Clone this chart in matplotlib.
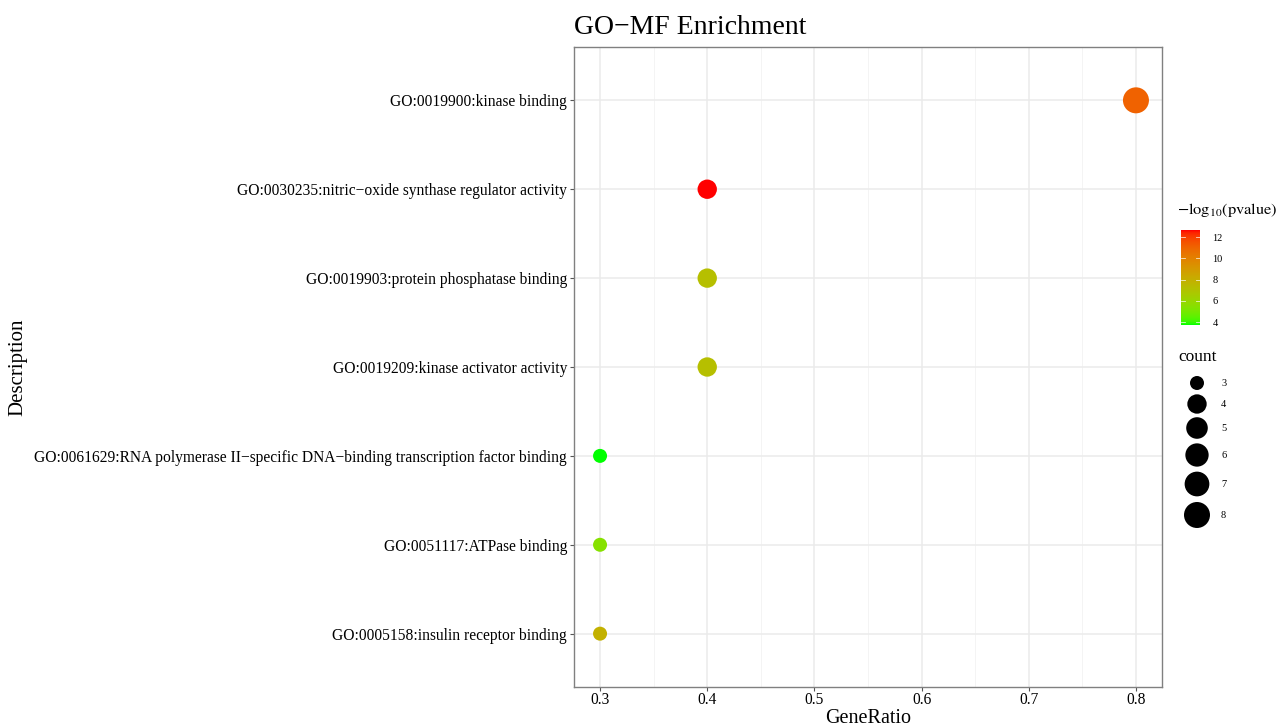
import numpy as np
import matplotlib
matplotlib.use("Agg")
import matplotlib.pyplot as plt
from matplotlib.colors import ListedColormap, Normalize

plt.rcParams['font.family'] = ['Liberation Serif', 'DejaVu Serif']
plt.rcParams['mathtext.fontset'] = 'stix'

# data (top to bottom)
terms = ["GO:0019900:kinase binding",
         "GO:0030235:nitric\u2212oxide synthase regulator activity",
         "GO:0019903:protein phosphatase binding",
         "GO:0019209:kinase activator activity",
         "GO:0061629:RNA polymerase II\u2212specific DNA\u2212binding transcription factor binding",
         "GO:0051117:ATPase binding",
         "GO:0005158:insulin receptor binding"]
gene_ratio = [0.8, 0.4, 0.4, 0.4, 0.3, 0.3, 0.3]
counts = [8, 4, 4, 4, 3, 3, 3]
neglog_p = [11.1, 12.66, 7.2, 7.2, 3.72, 5.4, 7.9]
x_ticks = [0.3, 0.4, 0.5, 0.6, 0.7, 0.8]
cbar_ticks = [4, 6, 8, 10, 12]
size_breaks = [3, 4, 5, 6, 7, 8]


# ggplot-like gradient: interpolate green -> red in CIE Lab
def srgb_to_lab(c):
    c = np.asarray(c, float)
    lin = np.where(c <= 0.04045, c / 12.92, ((c + 0.055) / 1.055) ** 2.4)
    M = np.array([[0.4124, 0.3576, 0.1805],
                  [0.2126, 0.7152, 0.0722],
                  [0.0193, 0.1192, 0.9505]])
    xyz = M @ lin / np.array([0.95047, 1.0, 1.08883])
    f = np.where(xyz > 0.008856, np.cbrt(xyz), 7.787 * xyz + 16 / 116)
    return np.array([116 * f[1] - 16, 500 * (f[0] - f[1]), 200 * (f[1] - f[2])])


def lab_to_srgb(lab):
    L, a, b = lab
    fy = (L + 16) / 116
    fx = fy + a / 500
    fz = fy - b / 200
    f = np.array([fx, fy, fz])
    xyz = np.where(f ** 3 > 0.008856, f ** 3, (f - 16 / 116) / 7.787)
    xyz = xyz * np.array([0.95047, 1.0, 1.08883])
    Minv = np.array([[3.2406, -1.5372, -0.4986],
                     [-0.9689, 1.8758, 0.0415],
                     [0.0557, -0.2040, 1.0570]])
    lin = Minv @ xyz
    c = np.where(lin <= 0.0031308, 12.92 * lin, 1.055 * np.clip(lin, 0, None) ** (1 / 2.4) - 0.055)
    return np.clip(c, 0, 1)


lo = srgb_to_lab([0, 1, 0])
hi = srgb_to_lab([1, 0, 0])
cmap = ListedColormap([lab_to_srgb(lo + t * (hi - lo)) for t in np.linspace(0, 1, 256)])
norm = Normalize(vmin=min(neglog_p), vmax=max(neglog_p))


def count_size(c):
    # area palette like ggplot: diameter grows with sqrt of rescaled count
    d_min, d_max = 14.0, 26.0
    t = (np.asarray(c, float) - min(size_breaks)) / (max(size_breaks) - min(size_breaks))
    d = d_min + np.sqrt(t) * (d_max - d_min)
    return (d * 0.72) ** 2


W, H = 1281, 726
fig = plt.figure(figsize=(W / 100, H / 100), dpi=100)
ax = fig.add_axes([574 / W, (H - 687) / H, 588 / W, 640 / H])

ypos = np.arange(len(terms))[::-1]
ax.scatter(gene_ratio, ypos, s=count_size(counts), c=neglog_p, cmap=cmap, norm=norm,
           linewidths=0, zorder=3)

ax.set_xlim(0.2757, 0.8243)
ax.set_ylim(-0.6, len(terms) - 0.4)
ax.set_xticks(x_ticks)
ax.set_xticklabels([str(v) for v in x_ticks])
ax.set_xticks([0.35, 0.45, 0.55, 0.65, 0.75], minor=True)
ax.set_yticks(ypos)
ax.set_yticklabels(terms)
ax.grid(True, which='major', color='#EBEBEB', linewidth=1.1, zorder=0)
ax.grid(True, which='minor', axis='x', color='#F2F2F2', linewidth=0.6, zorder=0)
ax.set_axisbelow(True)
ax.tick_params(which='major', labelsize=11.2, color='#555555', length=3, width=0.8,
               labelcolor='black', pad=2)
ax.tick_params(axis='x', pad=0.5)
ax.tick_params(which='minor', length=0)
for sp in ax.spines.values():
    sp.set_color('#808080')
    sp.set_linewidth(1.0)
ax.set_xlabel("GeneRatio", fontsize=14.5, labelpad=1)
ax.set_ylabel("Description", fontsize=15)
ax.yaxis.set_label_coords((27 - 574) / 588, 0.5)
ax.set_title("GO\u2212MF Enrichment", fontsize=20, loc='left', pad=9)

# colour bar
cax = fig.add_axes([1181 / W, (H - 325) / H, 19 / W, 95 / H])
grad = np.linspace(norm.vmin, norm.vmax, 200)[:, None]
cax.imshow(grad, aspect='auto', origin='lower', cmap=cmap, norm=norm,
           extent=[0, 1, norm.vmin, norm.vmax], interpolation='bilinear')
cax.set_xlim(0, 1)
cax.set_ylim(norm.vmin, norm.vmax)
for v in cbar_ticks:
    cax.plot([0, 0.2], [v, v], color='white', lw=0.6, alpha=0.8)
    cax.plot([0.8, 1], [v, v], color='white', lw=0.6, alpha=0.8)
cax.set_xticks([])
cax.yaxis.tick_right()
cax.set_yticks(cbar_ticks)
cax.set_yticklabels([str(v) for v in cbar_ticks])
cax.tick_params(axis='y', length=0, labelsize=7.5, pad=9)
for sp in cax.spines.values():
    sp.set_visible(False)
fig.text(1177 / W, (H - 210) / H, r"$-\mathrm{log}_{10}\mathrm{(pvalue)}$", fontsize=11.8,
         va='center', ha='left')

# size legend
fig.text(1178 / W, (H - 357) / H, "count", fontsize=12.5, va='center', ha='left')
lax = fig.add_axes([1180 / W, (H - 535) / H, 60 / W, 165 / H])
lax.set_xlim(1180, 1240)
lax.set_ylim(535, 370)
lax.axis('off')
leg_y = [383, 404, 428, 455, 484, 515]
lax.scatter([1197] * len(size_breaks), leg_y, s=count_size(size_breaks), color='black',
            linewidths=0)
for yy, b in zip(leg_y, size_breaks):
    lax.text(1221, yy, str(b), fontsize=7.5, va='center', ha='left')

fig.savefig("out.png", dpi=100, facecolor='white')
